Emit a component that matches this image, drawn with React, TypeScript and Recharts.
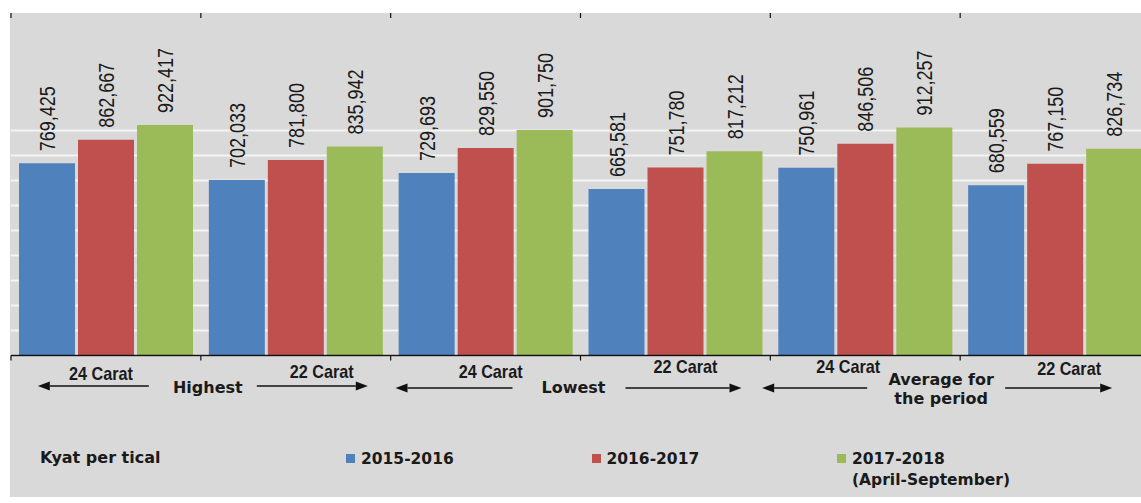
import React from 'react';
import {
  BarChart,
  Bar,
  XAxis,
  YAxis,
  CartesianGrid,
  Legend,
  LabelList,
} from 'recharts';

const categories = ['H-24', 'H-22', 'L-24', 'L-22', 'A-24', 'A-22'];
const caratLabels = ['24 Carat', '22 Carat', '24 Carat', '22 Carat', '24 Carat', '22 Carat'];
const groupLabels = [['Highest'], ['Lowest'], ['Average for', 'the period']];

const fy2015 = [769425, 702033, 729693, 665581, 750961, 680559];
const fy2016 = [862667, 781800, 829550, 751780, 846506, 767150];
const fy2017 = [922417, 835942, 901750, 817212, 912257, 826734];

const seriesNames = ['2015-2016', '2016-2017', '2017-2018\n(April-September)'];
const unitLabel = 'Kyat per tical';

const gridValues = [0, 100000, 200000, 300000, 400000, 500000, 600000, 700000, 800000, 900000];

const data = categories.map((c, i) => ({
  cat: c,
  fy2015: fy2015[i],
  fy2016: fy2016[i],
  fy2017: fy2017[i],
}));

const BLUE = '#4f81bd';
const RED = '#c0504d';
const GREEN = '#9bbb59';
const INK = '#1a1a1a';

// plot geometry (x axis is 1px tall, margins leave room for it)
const MARGIN = { top: 13, left: 11, right: 10, bottom: 146.5 };
const CHART_W = 1160;
const CHART_H = 503;
const AXIS_H = 1;
const AXIS_Y = CHART_H - MARGIN.bottom - AXIS_H;
const BAND = (CHART_W - MARGIN.left - MARGIN.right) / categories.length;

// hand placement of the annotation texts under the axis
const caratDx = [-5, 26, 5, 10, -17, 14];
const caratY = [380, 378, 378, 373, 373, 375];
const groupLayout = [
  { dx: 7, y: 393, left: [-163, -52], right: [56, 167], arrowY: 386 },
  { dx: -7, y: 393, left: [-185, -68], right: [45, 161], arrowY: 388 },
  { dx: -19, y: 385, left: [-198, -93], right: [45, 152], arrowY: 388 },
];

const fmt = (v: number) => Number(v).toLocaleString('en-US');

const Arrow = ({ x1, x2, y, dir }: { x1: number; x2: number; y: number; dir: number }) => {
  const tip = dir < 0 ? x1 : x2;
  const base = tip - dir * 12;
  return (
    <g>
      <line
        x1={dir < 0 ? base : x1}
        x2={dir < 0 ? x2 : base}
        y1={y}
        y2={y}
        stroke="#111"
        strokeWidth={1.6}
      />
      <polygon points={`${tip},${y} ${base},${y - 4.5} ${base},${y + 4.5}`} fill="#111" />
    </g>
  );
};

const CategoryTick = (props: any) => {
  const { x, index } = props;
  const g = Math.floor(index / 2);
  const lay = groupLayout[g];
  const edge = x - BAND / 2;
  const bx = x + BAND / 2;
  return (
    <g>
      {/* boundary tick marks, bottom and top of the plot */}
      <line x1={edge} x2={edge} y1={AXIS_Y} y2={AXIS_Y + 5} stroke="#111" strokeWidth={1.2} />
      <line x1={edge} x2={edge} y1={MARGIN.top} y2={MARGIN.top + 5} stroke="#111" strokeWidth={1.2} />
      <text
        transform={`translate(${x + caratDx[index]},${caratY[index]}) scale(0.9,1)`}
        textAnchor="middle"
        fontFamily="'Liberation Sans', Arial, sans-serif"
        fontWeight="bold"
        fontSize={18}
        fill={INK}
      >
        {caratLabels[index]}
      </text>
      {index % 2 === 0 && (
        <g>
          <text
            x={bx + lay.dx}
            y={lay.y}
            textAnchor="middle"
            fontFamily="'DejaVu Sans', sans-serif"
            fontWeight="bold"
            fontSize={16}
            fill={INK}
          >
            {groupLabels[g].map((t, k) => (
              <tspan key={k} x={bx + lay.dx} dy={k === 0 ? 0 : 19}>
                {t}
              </tspan>
            ))}
          </text>
          <Arrow x1={bx + lay.left[0]} x2={bx + lay.left[1]} y={lay.arrowY} dir={-1} />
          <Arrow x1={bx + lay.right[0]} x2={bx + lay.right[1]} y={lay.arrowY} dir={1} />
        </g>
      )}
    </g>
  );
};

const BarValueLabel = (props: any) => {
  const { x, y, width, value } = props;
  const cx = Number(x) + Number(width) / 2;
  return (
    <text
      transform={`translate(${cx},${Number(y) - 12}) scale(1.25,1) rotate(-90)`}
      textAnchor="start"
      dy="0.36em"
      fontFamily="'Liberation Sans', Arial, sans-serif"
      fontSize={18}
      fill={INK}
    >
      {fmt(value)}
    </text>
  );
};

const renderLegend = (props: any) => {
  const items = props.payload || [];
  return (
    <div
      style={{
        position: 'relative',
        width: 1141,
        height: 60,
        fontFamily: "'DejaVu Sans', sans-serif",
        fontWeight: 'bold',
        color: INK,
      }}
    >
      <div style={{ position: 'absolute', left: 40, top: 7, fontSize: 16, lineHeight: '21px' }}>
        {unitLabel}
      </div>
      {items.map((it: any, i: number) => (
        <div
          key={i}
          style={{
            position: 'absolute',
            left: 346 + 245.5 * i,
            top: 9,
            display: 'flex',
            alignItems: 'flex-start',
            fontSize: 15.5,
            lineHeight: '21px',
          }}
        >
          <span
            style={{
              display: 'inline-block',
              width: 9,
              height: 9,
              background: it.color,
              marginTop: 5,
              marginRight: 6,
            }}
          />
          <span style={{ whiteSpace: 'pre-line' }}>{it.value}</span>
        </div>
      ))}
    </div>
  );
};

const App: React.FC = () => {
  return (
    <div
      style={{
        position: 'absolute',
        left: 0,
        top: 0,
        width: 1141,
        height: 503,
        overflow: 'hidden',
        background: '#fff',
      }}
    >
      <div
        style={{
          position: 'absolute',
          left: 10,
          top: 13,
          width: 1131,
          height: 484,
          background: '#d9d9d9',
        }}
      />
      <div style={{ position: 'absolute', left: 0, top: 0 }}>
        <BarChart
          width={CHART_W}
          height={CHART_H}
          data={data}
          margin={MARGIN}
          barCategoryGap={8}
          barGap={3}
        >
          <CartesianGrid
            vertical={false}
            horizontalValues={gridValues}
            stroke="#f4f4f4"
            strokeWidth={2}
          />
          <XAxis
            dataKey="cat"
            height={AXIS_H}
            interval={0}
            tickLine={false}
            axisLine={{ stroke: '#111', strokeWidth: 1.5 }}
            tick={<CategoryTick />}
          />
          <YAxis hide domain={[0, 1370000]} ticks={gridValues} />
          <Legend
            layout="horizontal"
            verticalAlign="middle"
            align="center"
            wrapperStyle={{ left: 0, top: 440, width: 1141, height: 60 }}
            content={renderLegend}
          />
          <Bar dataKey="fy2015" name={seriesNames[0]} fill={BLUE} isAnimationActive={false}>
            <LabelList dataKey="fy2015" content={<BarValueLabel />} />
          </Bar>
          <Bar dataKey="fy2016" name={seriesNames[1]} fill={RED} isAnimationActive={false}>
            <LabelList dataKey="fy2016" content={<BarValueLabel />} />
          </Bar>
          <Bar dataKey="fy2017" name={seriesNames[2]} fill={GREEN} isAnimationActive={false}>
            <LabelList dataKey="fy2017" content={<BarValueLabel />} />
          </Bar>
        </BarChart>
      </div>
    </div>
  );
};

export default App;
